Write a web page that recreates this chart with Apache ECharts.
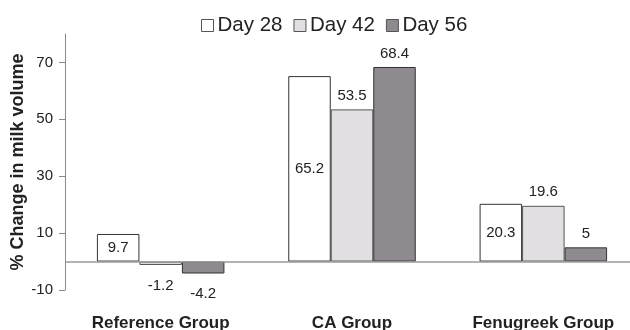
<!DOCTYPE html>
<html>
<head>
<meta charset="utf-8">
<script src="https://cdn.jsdelivr.net/npm/echarts@6/dist/echarts.min.js"></script>
<style>
  html, body { margin: 0; padding: 0; background: #fff; }
  #chart { width: 630px; height: 330px; }
</style>
</head>
<body>
<div id="chart"></div>
<script>
// Groups and percentage change in milk volume at each visit
const groups = ['Reference Group', 'CA Group', 'Fenugreek Group'];
const day28 = [9.7, 65.2, 20.3];
const day42 = [-1.2, 53.5, 19.6];
const day56 = [-4.2, 68.4, 5];
const yTicks = [-10, 10, 30, 50, 70];

const FONT = '"Liberation Sans", Arial, sans-serif';

function labelled(values, positiveInside) {
  return values.map(v => ({
    value: v,
    label: {
      position: v < 0 ? 'bottom' : (positiveInside ? 'inside' : 'top'),
      distance: v < 0 ? 13 : 6
    }
  }));
}

const baseLabel = {
  show: true,
  fontFamily: FONT,
  fontSize: 15,
  color: '#222'
};

const chart = echarts.init(document.getElementById('chart'), null, { renderer: 'canvas' });
chart.setOption({
  animation: false,
  backgroundColor: '#fff',
  legend: {
    top: 10,
    left: 196,
    itemWidth: 12,
    itemHeight: 12,
    itemGap: 11,
    itemStyle: { borderWidth: 1, borderColor: '#555' },
    icon: 'rect',
    textStyle: { fontFamily: FONT, fontSize: 20.5, color: '#222', padding: [0, 0, 0, -1] },
    data: ['Day 28', 'Day 42', 'Day 56']
  },
  grid: { left: 65, width: 574, top: 34, bottom: 40, outerBoundsMode: 'none', containLabel: false },
  xAxis: {
    type: 'category',
    data: groups,
    axisLine: { show: false, onZero: false },
    axisTick: { show: false },
    axisLabel: {
      fontFamily: FONT,
      fontSize: 17,
      fontWeight: 'bold',
      color: '#222',
      margin: 25
    }
  },
  yAxis: {
    type: 'value',
    min: -10,
    max: 80,
    interval: 20,
    name: '% Change in milk volume',
    nameLocation: 'middle',
    nameGap: 38,
    nameMoveOverlap: false,
    nameTextStyle: { fontFamily: FONT, fontSize: 18, fontWeight: 'bold', color: '#222' },
    axisLine: { show: true, lineStyle: { color: '#8a8a8a', width: 1 } },
    axisTick: { show: true, length: 6, customValues: yTicks, lineStyle: { color: '#8a8a8a' } },
    axisLabel: { customValues: yTicks, fontFamily: FONT, fontSize: 15, color: '#222', margin: 12 },
    splitLine: { show: false }
  },
  series: [
    {
      name: 'Day 28',
      type: 'bar',
      barWidth: 42.5,
      barGap: '0%',
      data: labelled(day28, true),
      itemStyle: { color: '#ffffff', borderColor: '#333', borderWidth: 1 },
      label: baseLabel,
      markLine: {
        silent: true,
        symbol: 'none',
        label: { show: false },
        lineStyle: { color: '#9a9a9a', width: 1.5, type: 'solid' },
        data: [{ yAxis: 0 }]
      }
    },
    {
      name: 'Day 42',
      type: 'bar',
      barWidth: 42.5,
      barGap: '0%',
      data: labelled(day42, false),
      itemStyle: { color: '#e2dfe2', borderColor: '#555', borderWidth: 1 },
      label: baseLabel
    },
    {
      name: 'Day 56',
      type: 'bar',
      barWidth: 42.5,
      barGap: '0%',
      data: labelled(day56, false),
      itemStyle: { color: '#8f8990', borderColor: '#333', borderWidth: 1 },
      label: baseLabel
    }
  ]
});
</script>
</body>
</html>
